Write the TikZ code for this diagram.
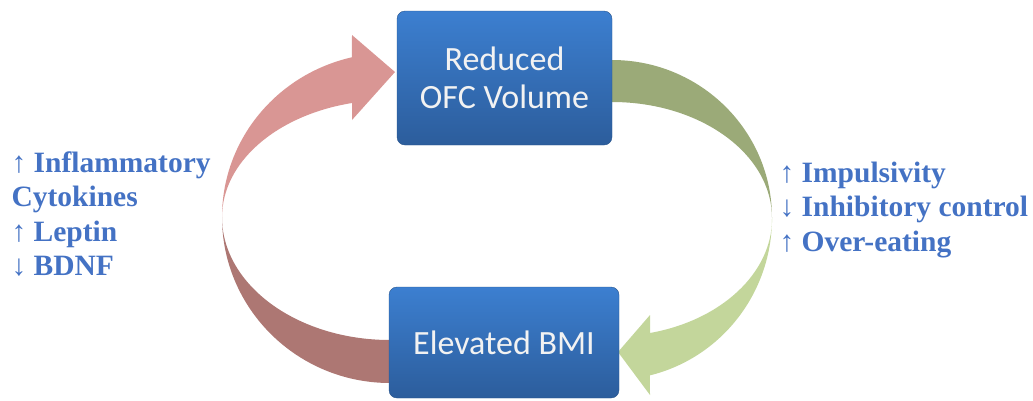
\documentclass[tikz,border=0pt]{standalone}
\usepackage{fontspec}
\setmainfont{Liberation Serif}
\newfontfamily\boxfont{Carlito}
\usetikzlibrary{positioning}
\definecolor{labelblue}{HTML}{4472C4}
\definecolor{boxtop}{HTML}{3C7FD0}
\definecolor{boxbot}{HTML}{2C5D9C}
\definecolor{pinklight}{HTML}{D99694}
\definecolor{pinkdark}{HTML}{AD7773}
\definecolor{greendark}{HTML}{9BAA78}
\definecolor{greenlight}{HTML}{C3D69B}

\begin{document}
\begin{tikzpicture}[x=1pt,y=-1pt,
  box/.style={rounded corners=8pt,top color=boxtop,bottom color=boxbot,draw=boxbot!90!black,line width=.4pt,
    text=white!95!black,align=center,font=\boxfont\fontsize{34}{38}\selectfont},
  effect/.style={text=labelblue,align=left,anchor=west,font=\bfseries\fontsize{29.5}{34.5}\selectfont}]
\useasboundingbox (0,0) rectangle (1033,400);
\coordinate (cl) at (390,217);
\coordinate (cr) at (612,218);
% left arrow, back and front
\fill[pinkdark] (390,383) arc[start angle=90,end angle=180,x radius=168,y radius=166]
  arc[start angle=180,end angle=90,x radius=168,y radius=123] -- cycle;
\fill[pinklight] (222,217) arc[start angle=180,end angle=256.9,x radius=168,y radius=164]
  -- (352,35) -- (395,72) -- (352,120) -- (352,103)
  arc[start angle=256.9,end angle=180,x radius=168,y radius=117] -- cycle;
% right arrow, back and front
\fill[greendark] (612,60) arc[start angle=270,end angle=360,x radius=160,y radius=158]
  arc[start angle=360,end angle=270,x radius=160,y radius=116] -- cycle;
\fill[greenlight] (772,218) arc[start angle=0,end angle=76.3,x radius=160,y radius=162]
  -- (650,395) -- (618,352) -- (650,315) -- (650,333)
  arc[start angle=76.3,end angle=0,x radius=160,y radius=118] -- cycle;
% boxes
\node[box,minimum width=215,minimum height=134] (ofc) at (504.5,78) {Reduced\\OFC Volume};
\node[box,minimum width=230,minimum height=111] (bmi) at (504,342.5) {Elevated BMI};
% labels
\node[effect] (left) at (8,214) {↑ Inflammatory\\Cytokines\\↑ Leptin\\↓ BDNF};
\node[effect] (right) at (776,210) {↑ Impulsivity\\↓ Inhibitory control\\↑ Over-eating};
\end{tikzpicture}
\end{document}
